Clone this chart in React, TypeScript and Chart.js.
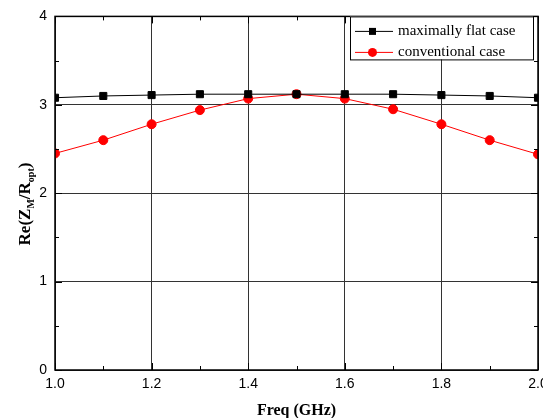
import React, { useEffect, useRef } from "react";
import { Chart, registerables } from "chart.js";
Chart.register(...registerables);

const freqs = [1.0, 1.1, 1.2, 1.3, 1.4, 1.5, 1.6, 1.7, 1.8, 1.9, 2.0];
const flatValues = [3.08, 3.1, 3.11, 3.12, 3.12, 3.12, 3.12, 3.12, 3.11, 3.1, 3.08];
const convValues = [2.45, 2.6, 2.78, 2.94, 3.07, 3.12, 3.07, 2.95, 2.78, 2.6, 2.44];
const seriesLabels = ["maximally flat case", "conventional case"];
const xTitle = "Freq (GHz)";
const yTitleParts: [string, boolean][] = [["Re(Z", false], ["M", true], ["/R", false], ["opt", true], [")", false]];

const framePlugin = {
  id: "frame",
  afterDraw(chart: any) {
    const { ctx, chartArea: a, scales } = chart;
    const xs = scales.x, ys = scales.y;
    ctx.save();
    ctx.strokeStyle = "#000";
    ctx.lineWidth = 1;
    ctx.beginPath();
    for (let i = 0; i <= 10; i++) {
      const v = 1 + i * 0.1;
      const px = Math.round(xs.getPixelForValue(v)) + 0.5;
      const len = i % 2 === 0 ? 7 : 4;
      ctx.moveTo(px, a.bottom); ctx.lineTo(px, a.bottom - len);
      ctx.moveTo(px, a.top); ctx.lineTo(px, a.top + len);
    }
    for (let i = 0; i <= 8; i++) {
      const v = i * 0.5;
      const py = Math.round(ys.getPixelForValue(v)) + 0.5;
      const len = i % 2 === 0 ? 7 : 4;
      ctx.moveTo(a.left, py); ctx.lineTo(a.left + len, py);
      ctx.moveTo(a.right, py); ctx.lineTo(a.right - len, py);
    }
    ctx.stroke();
    ctx.lineWidth = 1.5;
    ctx.strokeRect(a.left, a.top, a.right - a.left, a.bottom - a.top);

    // legend
    const lx = 350, ly = a.top, lw = 183, lh = 43;
    ctx.fillStyle = "#fff";
    ctx.fillRect(lx, ly, lw, lh);
    ctx.lineWidth = 1;
    ctx.strokeStyle = "#000";
    ctx.strokeRect(lx + 0.5, ly + 0.5, lw, lh);
    const ds = chart.data.datasets;
    ds.forEach((d: any, i: number) => {
      const cy = ly + 15 + i * 21;
      ctx.strokeStyle = d.borderColor;
      ctx.lineWidth = 1;
      ctx.beginPath();
      ctx.moveTo(lx + 5, cy); ctx.lineTo(lx + 43, cy);
      ctx.stroke();
      ctx.fillStyle = d.pointBackgroundColor;
      if (d.pointStyle === "rect") {
        ctx.fillRect(lx + 19, cy - 3.5, 7, 7);
      } else {
        ctx.beginPath();
        ctx.arc(lx + 22.5, cy, 4.5, 0, Math.PI * 2);
        ctx.fill();
      }
      ctx.fillStyle = "#000";
      ctx.font = "15px 'Liberation Serif'";
      ctx.textBaseline = "middle";
      ctx.textAlign = "left";
      ctx.fillText(d.label, lx + 48, cy);
    });

    // y title
    ctx.translate(25, 204);
    ctx.rotate(-Math.PI / 2);
    let total = 0;
    const big = "bold 17px 'Liberation Serif'";
    const small = "bold 10px 'Liberation Serif'";
    yTitleParts.forEach(([t, sub]) => { ctx.font = sub ? small : big; total += ctx.measureText(t).width; });
    let x = -total / 2;
    ctx.fillStyle = "#000";
    ctx.textBaseline = "alphabetic";
    ctx.textAlign = "left";
    yTitleParts.forEach(([t, sub]) => {
      ctx.font = sub ? small : big;
      ctx.fillText(t, x, sub ? 9 : 5);
      x += ctx.measureText(t).width;
    });
    ctx.restore();
  },
};

export default function App() {
  const ref = useRef<HTMLCanvasElement>(null);
  useEffect(() => {
    const chart = new Chart(ref.current!, {
      type: "line",
      data: {
        labels: freqs,
        datasets: [
          {
            label: seriesLabels[0],
            data: freqs.map((f, i) => ({ x: f, y: flatValues[i] })),
            borderColor: "#000",
            backgroundColor: "#000",
            pointBackgroundColor: "#000",
            pointBorderColor: "#000",
            pointStyle: "rect",
            pointRadius: 5,
            borderWidth: 1,
          },
          {
            label: seriesLabels[1],
            data: freqs.map((f, i) => ({ x: f, y: convValues[i] })),
            borderColor: "#ff0000",
            backgroundColor: "#ff0000",
            pointBackgroundColor: "#ff0000",
            pointBorderColor: "#ff0000",
            pointStyle: "circle",
            pointRadius: 4.5,
            borderWidth: 1,
          },
        ],
      } as any,
      options: {
        animation: false,
        responsive: false,
        layout: { padding: { top: 14, right: 22, left: 0, bottom: 0 } },
        plugins: { legend: { display: false }, tooltip: { enabled: false } },
        scales: {
          x: {
            type: "linear",
            min: 1,
            max: 2,
            border: { display: false },
            grid: { color: "#333", drawTicks: false, lineWidth: 1 },
            ticks: {
              stepSize: 0.2,
              padding: 6,
              color: "#000",
              font: { family: "'Liberation Sans'", size: 14 },
              callback: (v: any) => Number(v).toFixed(1),
              maxRotation: 0,
            },
            title: {
              display: true,
              text: xTitle,
              color: "#000",
              font: { family: "'Liberation Serif'", size: 16, weight: "bold" },
              padding: { top: 4, bottom: -2 },
            },
            afterFit: (s: any) => { s.height = 48; },
          },
          y: {
            min: 0,
            max: 4,
            border: { display: false },
            grid: { color: "#333", drawTicks: false, lineWidth: 1 },
            ticks: {
              stepSize: 1,
              padding: 8,
              color: "#000",
              font: { family: "'Liberation Sans'", size: 14 },
            },
            afterFit: (s: any) => { s.width = 55; },
          },
        },
      } as any,
      plugins: [framePlugin],
    });
    return () => chart.destroy();
  }, []);
  return (
    <div style={{ position: "fixed", left: 0, top: 0, width: 543, height: 418, overflow: "hidden", background: "#fff" }}>
      <canvas ref={ref} width={560} height={418} style={{ position: "absolute", left: 0, top: 0 }} />
    </div>
  );
}
